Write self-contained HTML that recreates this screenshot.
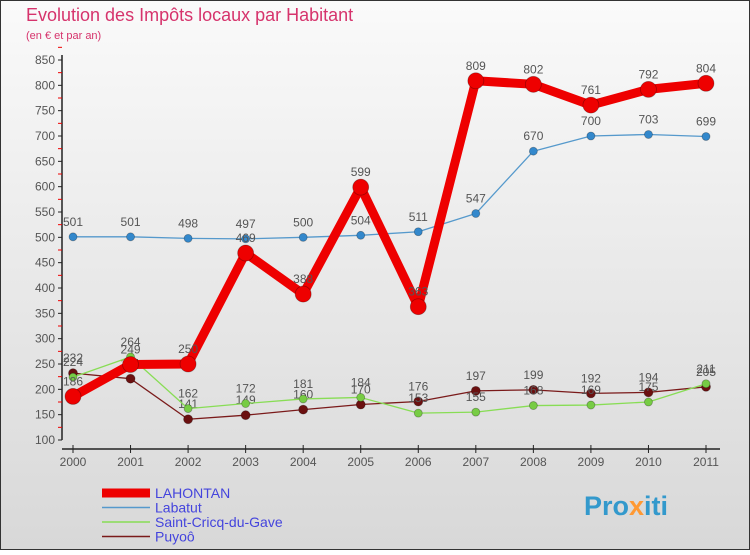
<!DOCTYPE html>
<html><head><meta charset="utf-8"><style>
body{margin:0;width:750px;height:550px;overflow:hidden;font-family:"Liberation Sans",sans-serif}
svg text{font-family:"Liberation Sans",sans-serif}
</style></head><body>
<svg id="c" width="750" height="550" xmlns="http://www.w3.org/2000/svg">
<defs><linearGradient id="bg" x1="0" y1="0" x2="0" y2="1"><stop offset="0" stop-color="#fafafa"/><stop offset="1" stop-color="#d8d8d8"/></linearGradient></defs>
<rect x="0.5" y="0.5" width="749" height="549" fill="url(#bg)" stroke="#333"/>
<text x="26" y="21" font-size="18" fill="#d6336c">Evolution des Impôts locaux par Habitant</text>
<text x="26" y="39" font-size="11" fill="#d6336c">(en € et par an)</text>
<g id="axes"></g><g id="series"></g><g id="legend"></g>
<text x="584" y="515" font-size="27" font-weight="bold" fill="#3399cc">Pro<tspan fill="#ff9933">x</tspan>iti</text>
</svg>
<script>
const years=[2000,2001,2002,2003,2004,2005,2006,2007,2008,2009,2010,2011];
const lahontan=[186,249,250,469,388,599,363,809,802,761,792,804];
const labatut=[501,501,498,497,500,504,511,547,670,700,703,699];
const stcricq=[224,264,162,172,181,184,153,155,168,169,175,211];
const puyoo=[232,221,141,149,160,170,176,197,199,192,194,205];
const yTicks=[100,150,200,250,300,350,400,450,500,550,600,650,700,750,800,850];
const seriesNames=["LAHONTAN","Labatut","Saint-Cricq-du-Gave","Puyoô"];
const NS="http://www.w3.org/2000/svg";
const X=i=>73+i*(706-73)/11;
const Y=v=>440-(v-100)*380/750;
function mk(t,a,p){const e=document.createElementNS(NS,t);for(const k in a)e.setAttribute(k,a[k]);p.appendChild(e);return e;}
const ax=document.getElementById('axes');
const yl=mk('line',{x1:62,y1:55,x2:62,y2:440,stroke:'#222','stroke-width':1.5},ax);


yTicks.forEach(v=>{
 mk('line',{x1:58,y1:Y(v),x2:62,y2:Y(v),stroke:'#222'},ax);
 mk('line',{x1:58,y1:Y(v+25),x2:62,y2:Y(v+25),stroke:'#e00'},ax);
 const t=mk('text',{x:55,y:Y(v)+4,'text-anchor':'end','font-size':12,fill:'#555'},ax);t.textContent=v;
 
 
});
const xl=mk('line',{x1:62,y1:449,x2:720,y2:449,stroke:'#222','stroke-width':1.5},ax);


years.forEach((y,i)=>{
 mk('line',{x1:X(i),y1:445,x2:X(i),y2:453,stroke:'#222'},ax);
 const t=mk('text',{x:X(i),y:466,'text-anchor':'middle','font-size':12,fill:'#555'},ax);t.textContent=y;
 
 
});
const sg=document.getElementById('series');
const defs=[[puyoo,'#7a1a1a',1.3,4.5,'#6b1010','puyoo'],[stcricq,'#88dd55',1.3,4,'#77cc44','saint-cricq'],[labatut,'#5599cc',1.3,4,'#3388cc','labatut'],[lahontan,'#ee0000',9,8,'#ee0000','lahontan']];
defs.forEach(([d,c,w,r,fc,n])=>{
 const g=mk('g',{},sg);
 
 
 mk('polyline',{points:d.map((v,i)=>X(i)+','+Y(v)).join(' '),fill:'none',stroke:c,'stroke-width':w,'stroke-linejoin':'round'},g);
 d.forEach((v,i)=>{
  const p=mk('circle',{cx:X(i),cy:Y(v),r:r,fill:fc,stroke:'rgba(0,0,0,0.3)','stroke-width':0.8},g);
  
  
  const t=mk('text',{x:X(i),y:Y(v)-11,'text-anchor':'middle','font-size':12,fill:'#555'},g);t.textContent=v;
  
  
 });
});
const lg=document.getElementById('legend');
const lc=[['#ee0000',9],['#5599cc',1.5],['#88dd55',1.5],['#7a1a1a',1.5]];
seriesNames.forEach((s,i)=>{
 const yy=493+i*14.5;
 const g=mk('g',{},lg);
 
 
 mk('line',{x1:102,y1:yy,x2:150,y2:yy,stroke:lc[i][0],'stroke-width':lc[i][1]},g);
 const t=mk('text',{x:155,y:yy+5,'font-size':14,fill:'#4444dd'},g);t.textContent=s;
});
</script>
</body></html>
